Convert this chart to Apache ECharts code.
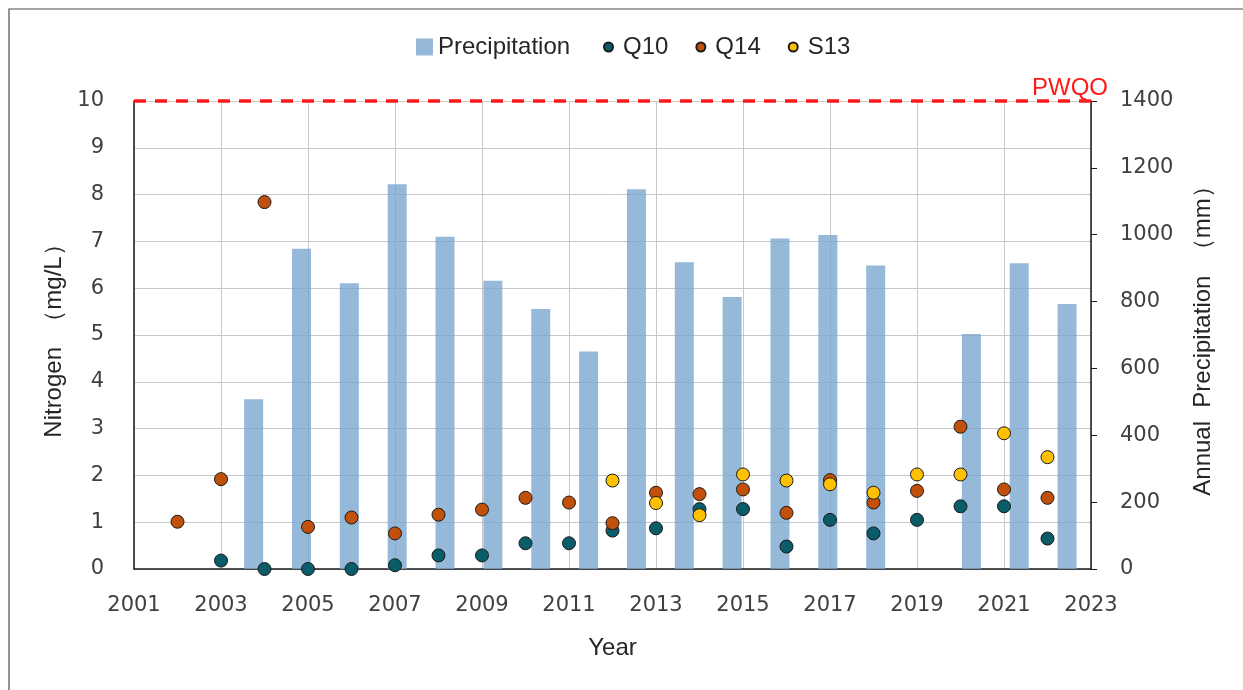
<!DOCTYPE html>
<html>
<head>
<meta charset="utf-8">
<script src="https://cdn.jsdelivr.net/npm/echarts@6/dist/echarts.min.js"></script>
<style>
  html, body { margin: 0; padding: 0; background: #fff; }
  #chart { width: 1243px; height: 690px; }
</style>
</head>
<body>
<div id="chart"></div>
<script>
// scatter years (value axis)
var years = [2002, 2003, 2004, 2005, 2006, 2007, 2008, 2009, 2010, 2011, 2012,
  2013, 2014, 2015, 2016, 2017, 2018, 2019, 2020, 2021, 2022];
var q10 = [null, 0.18, 0.0, 0.0, 0.0, 0.08, 0.29, 0.29, 0.55, 0.55, 0.82,
  0.87, 1.28, 1.28, 0.48, 1.05, 0.76, 1.05, 1.34, 1.34, 0.65];
var q14 = [1.01, 1.92, 7.84, 0.90, 1.10, 0.76, 1.16, 1.27, 1.52, 1.42, 0.98,
  1.63, 1.60, 1.70, 1.20, 1.90, 1.42, 1.67, 3.04, 1.70, 1.52];
var s13 = [null, null, null, null, null, null, null, null, null, null, 1.89,
  1.41, 1.15, 2.02, 1.89, 1.81, 1.63, 2.02, 2.02, 2.90, 2.39];
// precipitation (category axis, as in the original workbook)
var precipYears = ["2003", "2004", "2005", "2006", "2007", "2008", "2009", "2010", "2011", "2012",
  "2013", "2014", "2015", "2016", "2017", "2018", "2019", "2020", "2021", "2022"];
var precip = [null, null, 508, 958, 855, 1151, 994, 862, 778, 651,
  1136, 918, 814, 989, 999, 908, null, 703, 915, 793];
var pwqo = 10;

var myChart = echarts.init(document.getElementById("chart"));
var txt = "#404040";
var fontNum = "DejaVu Sans";
var fontTxt = "Liberation Sans";

function pairs(arr) {
  var out = [];
  for (var i = 0; i < years.length; i++) {
    if (arr[i] != null) out.push([years[i], arr[i]]);
  }
  return out;
}

function dots(name, color, arr, extra) {
  var s = {
    name: name,
    type: "scatter",
    xAxisIndex: 0,
    yAxisIndex: 0,
    symbolSize: 13,
    itemStyle: { color: color, borderColor: "#1a1a1a", borderWidth: 1, opacity: 1 },
    data: pairs(arr),
    z: 5
  };
  return Object.assign(s, extra || {});
}

var option = {
  backgroundColor: "#fff",
  animation: false,
  graphic: [{
    type: "rect",
    shape: { x: 9, y: 9, width: 1260, height: 700 },
    style: { fill: "none", stroke: "#4d4d4d", lineWidth: 1.2 },
    silent: true
  }],
  legend: [
    {
      data: ["Precipitation"],
      left: 411,
      top: 30,
      itemWidth: 17,
      itemHeight: 17,
      icon: "rect",
      textStyle: { color: "#262626", fontSize: 24, fontFamily: fontTxt }
    },
    {
      data: ["Q10", "Q14", "S13"],
      left: 598,
      top: 30,
      icon: "circle",
      itemWidth: 9,
      itemHeight: 9,
      itemGap: 27,
      textStyle: { color: "#262626", fontSize: 24, fontFamily: fontTxt, padding: [0, 0, 0, 5] }
    }
  ],
  grid: { left: 134, right: 152, top: 101, bottom: 121, containLabel: false },
  xAxis: [
    {
      type: "value",
      min: 2001,
      max: 2023,
      interval: 2,
      name: "Year",
      nameLocation: "middle",
      nameGap: 67,
      nameTextStyle: { color: "#262626", fontSize: 24, fontFamily: fontTxt },
      axisLine: { show: true, lineStyle: { color: "#1a1a1a", width: 1.5 } },
      axisTick: { show: false },
      axisLabel: {
        color: txt, fontSize: 21, fontFamily: fontNum, margin: 26,
        formatter: function(v) { return String(v); }
      },
      splitLine: { show: true, lineStyle: { color: "#c8c8c8", width: 1 } }
    },
    {
      type: "category",
      data: precipYears,
      boundaryGap: true,
      show: false
    }
  ],
  yAxis: [
    {
      type: "value",
      min: 0,
      max: 10,
      interval: 1,
      name: "Nitrogen  （mg/L）",
      nameLocation: "middle",
      nameRotate: 90,
      nameGap: 63,
      nameTextStyle: { color: "#262626", fontSize: 24, fontFamily: fontTxt },
      axisLine: { show: true, lineStyle: { color: "#1a1a1a", width: 1.5 } },
      axisTick: { show: false },
      axisLabel: { color: txt, fontSize: 21, fontFamily: fontNum, margin: 30 },
      splitLine: { show: true, lineStyle: { color: "#c8c8c8", width: 1 } }
    },
    {
      type: "value",
      min: 0,
      max: 1400,
      interval: 200,
      position: "right",
      name: "Annual  Precipitation  （mm）",
      nameLocation: "middle",
      nameRotate: 90,
      nameGap: 100,
      nameTextStyle: { color: "#262626", fontSize: 24, fontFamily: fontTxt },
      axisLine: { show: true, lineStyle: { color: "#1a1a1a", width: 1.5 } },
      axisTick: { show: true, inside: false, length: 6, lineStyle: { color: "#1a1a1a" } },
      axisLabel: {
        color: txt, fontSize: 21, fontFamily: fontNum, margin: 29,
        formatter: function(v) { return String(v); }
      },
      splitLine: { show: false }
    }
  ],
  series: [
    {
      name: "Precipitation",
      type: "bar",
      xAxisIndex: 1,
      yAxisIndex: 1,
      barWidth: 19,
      itemStyle: { color: "rgba(120,165,207,0.78)" },
      data: precip,
      z: 2
    },
    dots("Q10", "#0b5c69", q10, {
      markLine: {
        silent: true,
        symbol: "none",
        lineStyle: { color: "#ff1a1a", type: [12, 9], width: 3.5 },
        label: {
          show: true,
          position: "insideEndTop",
          distance: [-17, 1],
          formatter: "PWQO",
          color: "#ff1a1a",
          fontSize: 24,
          fontFamily: fontTxt
        },
        data: [{ yAxis: pwqo }]
      }
    }),
    dots("Q14", "#c0500a", q14),
    dots("S13", "#ffc000", s13)
  ]
};

myChart.setOption(option);
window.addEventListener("resize", function() {
  myChart.resize();
});
</script>
</body>
</html>
